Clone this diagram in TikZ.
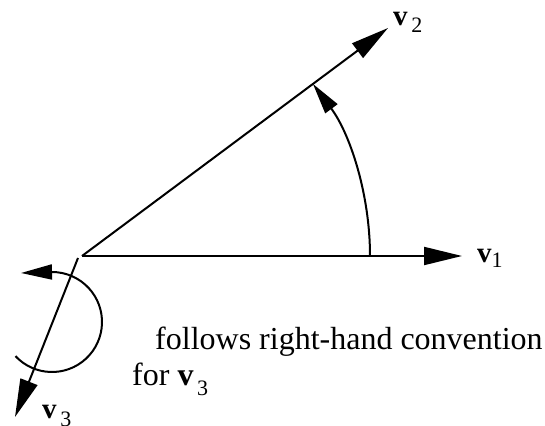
\documentclass[tikz,border=0pt]{standalone}
\usepackage{fontspec}
\setmainfont{Liberation Serif}
\usetikzlibrary{arrows.meta}
\begin{document}
\begin{tikzpicture}[x=1pt,y=1pt,
  vec/.style={line width=2pt,-{Triangle[length=38pt,width=18pt]}},
  arcarrow/.style={line width=2pt,-{Triangle[length=31pt,width=15pt]}},
  lab/.style={anchor=base west,inner sep=0pt,font=\fontsize{29}{29}\selectfont},
  txt/.style={anchor=base west,inner sep=0pt,font=\fontsize{32}{32}\selectfont}]
\useasboundingbox (0,0) rectangle (545,425);
\coordinate (O) at (82,169);
\coordinate (O3) at (78,167);
\coordinate (t1) at (462,169);
\coordinate (t2) at (388,397);
\coordinate (t3) at (15,8);
\coordinate (A0) at (370,169);
\coordinate (C) at (52,103);
\draw[vec] (O) -- (t1);
\draw[vec] (O) -- (t2);
\draw[vec] (O3) -- (t3);
\draw[arcarrow] (A0) arc[start angle=0,end angle=36.69,radius=288];
\draw[arcarrow] (C) ++(223:50) arc[start angle=223,end angle=450,radius=50] -- ++(-31,-1);
\node[lab] (v1lab) at (477,162) {\textbf{v}\raisebox{-5pt}{\fontsize{22}{22}\selectfont 1}};
\node[lab] (v2lab) at (393,399) {\textbf{v}\raisebox{-7pt}{\fontsize{22}{22}\selectfont\,2}};
\node[lab] (v3lab) at (42,7) {\textbf{v}\raisebox{-8pt}{\fontsize{22}{22}\selectfont\,3}};
\node[txt] (line1) at (155,75) {follows right-hand convention};
\node[txt] (line2) at (132,40) {for \textbf{v}\raisebox{-10pt}{\fontsize{22}{22}\selectfont\,3}};
\end{tikzpicture}
\end{document}
